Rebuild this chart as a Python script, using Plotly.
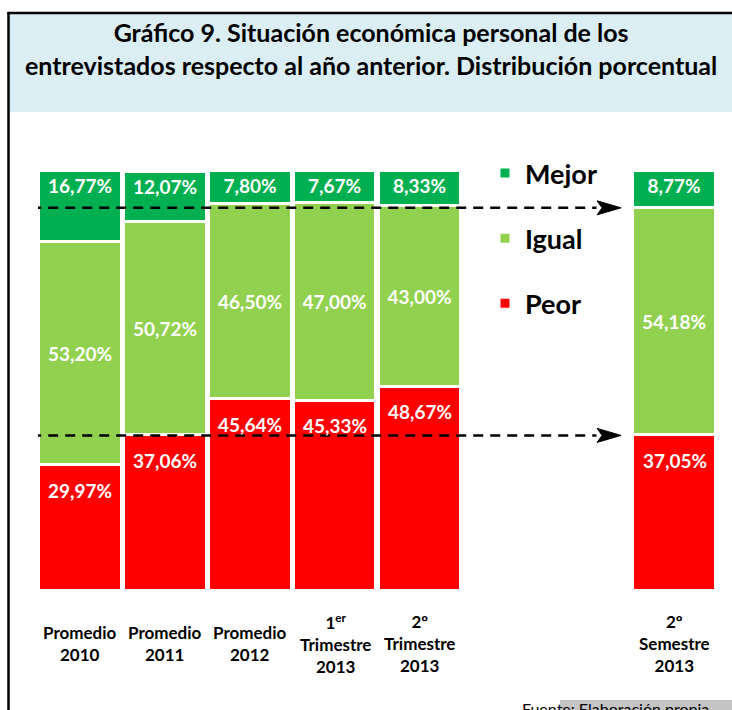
import plotly.graph_objects as go

# ---- data ----
categories = ["Promedio 2010", "Promedio 2011", "Promedio 2012",
              "1er Trimestre 2013", "2º Trimestre 2013", "2º Semestre 2013"]
tick_labels = ["Promedio<br>2010", "Promedio<br>2011", "Promedio<br>2012",
               "1<sup>er</sup><br>Trimestre<br>2013", "2º<br>Trimestre<br>2013",
               "2º<br>Semestre<br>2013"]
mejor = [16.77, 12.07, 7.80, 7.67, 8.33, 8.77]
igual = [53.20, 50.72, 46.50, 47.00, 43.00, 54.18]
peor = [29.97, 37.06, 45.64, 45.33, 48.67, 37.05]

FONT = "Lato"
C_MEJOR, C_IGUAL, C_PEOR = "#00B050", "#92D050", "#FF0000"

W, H = 732, 710
ML, MR, MT, MB = 38, 15, 171, 119
PW, PH = W - ML - MR, H - MT - MB


def pxx(px):
    return (px - ML) / PW


def pyy(py):
    return (H - MB - py) / PH


def fmt(v):
    return f"{v:.2f}%".replace(".", ",")


order = categories[:5] + ["_gap1", "_gap2"] + categories[5:]

fig = go.Figure()
for name, vals, col, anchor, show, rank in [("Peor", peor, C_PEOR, "end", False, 3),
                                            ("Igual", igual, C_IGUAL, "middle", True, 2),
                                            ("Mejor", mejor, C_MEJOR, "end", True, 1)]:
    fig.add_trace(go.Bar(
        x=categories, y=vals, name=name, legendgroup=name, legendrank=rank,
        marker=dict(color=col, line=dict(color="white", width=3)),
        width=0.976,
        text=[fmt(v) for v in vals] if show else None,
        textposition="inside" if show else "none",
        insidetextanchor=anchor, textangle=0, constraintext="none",
        textfont=dict(family=FONT, size=19, color="white", weight="bold"),
        hoverinfo="skip",
    ))

shapes = [
    # title box
    dict(type="rect", xref="paper", yref="paper", x0=pxx(9), x1=pxx(732),
         y0=pyy(112), y1=pyy(13), fillcolor="#DAEEF3", line=dict(width=0), layer="below"),
    dict(type="line", xref="paper", yref="paper", x0=pxx(7.5), x1=pxx(732),
         y0=pyy(13), y1=pyy(13), line=dict(color="black", width=2.5)),
    dict(type="line", xref="paper", yref="paper", x0=pxx(8.5), x1=pxx(8.5),
         y0=pyy(12), y1=pyy(710), line=dict(color="black", width=2.5)),
    # source box shadow
    dict(type="rect", xref="paper", yref="paper", x0=pxx(560), x1=pxx(732),
         y0=pyy(710), y1=pyy(700), fillcolor="#c4c4c4", line=dict(width=0), layer="below"),
]

# dashed reference arrows at the levels of the last bar
levels = [100 - mejor[-1], peor[-1]]
for lv in levels:
    shapes.append(dict(type="line", xref="x", yref="y", x0=-0.58, x1=6.08, y0=lv, y1=lv,
                       line=dict(color="black", width=2.5, dash="10px,7px")))
    shapes.append(dict(type="path", xref="x", yref="y", xsizemode="pixel", ysizemode="pixel",
                       xanchor=6.37, yanchor=lv,
                       path="M0,0 L-24,7 L-19,0 L-24,-7 Z",
                       fillcolor="black", line=dict(color="black", width=1)))

annotations = [
    dict(xref="paper", yref="paper", x=pxx(371), y=pyy(48.5), xanchor="center", yanchor="middle",
         text="Gráfico 9. Situación económica personal de los<br>"
              "entrevistados respecto al año anterior. Distribución porcentual",
         showarrow=False, font=dict(family=FONT, size=25, color="black", weight="bold")),
    dict(xref="paper", yref="paper", x=pxx(520), y=pyy(697), xanchor="left", yanchor="top",
         text="Fuente: Elaboración propia", showarrow=False,
         font=dict(family=FONT, size=16, color="black")),
]
for cat, lab in zip(categories, tick_labels):
    annotations.append(dict(xref="x", yref="paper", x=cat, y=pyy(643), xanchor="center",
                            yanchor="middle", text=lab, showarrow=False,
                            font=dict(family=FONT, size=17, color="black", weight="bold")))
# "Peor" value labels, a little below the top of each red segment
for cat, v in zip(categories, peor):
    annotations.append(dict(xref="x", yref="y", x=cat, y=v, yanchor="middle", yshift=-25,
                            text=fmt(v), showarrow=False,
                            font=dict(family=FONT, size=19, color="white", weight="bold")))

fig.update_layout(
    width=W, height=H, margin=dict(l=ML, r=MR, t=MT, b=MB),
    paper_bgcolor="white", plot_bgcolor="white",
    barmode="stack", bargap=0,
    xaxis=dict(type="category", categoryorder="array", categoryarray=order,
               range=[-0.5, 7.5], showticklabels=False, showgrid=False,
               zeroline=False, showline=False, ticks=""),
    yaxis=dict(range=[0, 100], visible=False, fixedrange=True),
    showlegend=True,
    legend=dict(x=pxx(485), y=pyy(149), xanchor="left", yanchor="top",
                traceorder="grouped", tracegroupgap=27,
                bgcolor="rgba(0,0,0,0)",
                font=dict(family=FONT, size=27, color="black", weight="bold")),
    uniformtext=dict(minsize=19, mode="show"),
    shapes=shapes, annotations=annotations,
)

fig.write_html("out.html", config={"displayModeBar": False},
               post_script="document.body.style.margin='0';"
                           "document.documentElement.style.overflow='hidden';"
                           "document.body.style.overflow='hidden';")
